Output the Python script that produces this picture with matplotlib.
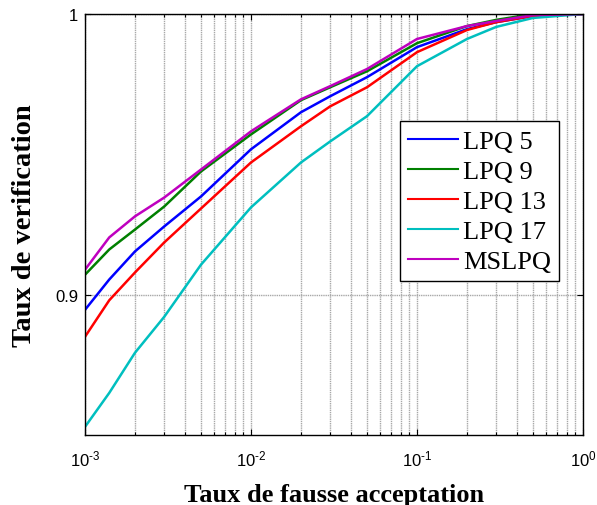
import matplotlib
matplotlib.use("Agg")
import matplotlib.pyplot as plt
import numpy as np
from matplotlib.ticker import LogLocator, NullFormatter, FixedLocator, FuncFormatter

plt.rcParams["axes.unicode_minus"] = False
plt.rcParams["mathtext.fontset"] = "custom"
plt.rcParams["mathtext.rm"] = "Liberation Sans"
plt.rcParams["mathtext.it"] = "Liberation Sans:italic"
plt.rcParams["mathtext.bf"] = "Liberation Sans:bold"
plt.rcParams["mathtext.default"] = "regular"

far = [1e-3, 1.4e-3, 2e-3, 3e-3, 5e-3, 1e-2, 2e-2, 3e-2, 5e-2, 0.1, 0.2, 0.3, 0.5, 1.0]

lpq5 = [0.8946, 0.9054, 0.9154, 0.9243, 0.9350, 0.9518, 0.9650, 0.9707, 0.9775, 0.9882, 0.9946, 0.9971, 0.9993, 1.0]
lpq9 = [0.9071, 0.9161, 0.9232, 0.9314, 0.9439, 0.9571, 0.9693, 0.9739, 0.9796, 0.9896, 0.9957, 0.9979, 1.0, 1.0]
lpq13 = [0.8850, 0.8980, 0.9079, 0.9186, 0.9307, 0.9471, 0.9600, 0.9671, 0.9739, 0.9864, 0.9943, 0.9971, 0.9993, 1.0]
lpq17 = [0.8529, 0.8650, 0.8793, 0.8921, 0.9107, 0.9311, 0.9471, 0.9546, 0.9636, 0.9814, 0.9911, 0.9954, 0.9986, 1.0]
mslpq = [0.9089, 0.9204, 0.9279, 0.9346, 0.9446, 0.9582, 0.9696, 0.9743, 0.9804, 0.9911, 0.9957, 0.9975, 0.9996, 1.0]

labels = ["LPQ 5", "LPQ 9", "LPQ 13", "LPQ 17", "MSLPQ"]
colors = ["#0000ff", "#008000", "#ff0000", "#00bfbf", "#bf00bf"]
series = [lpq5, lpq9, lpq13, lpq17, mslpq]

xlabel = "Taux de fausse acceptation"
ylabel = "Taux de verification"
yticks = [0.9, 1.0]
yticklabels = ["0.9", "1"]

fig = plt.figure(figsize=(5.97, 5.06), dpi=100)
ax = fig.add_axes([85/597, 1-436/506, 498/597, 421/506])

lines = []
for y, c, lab in zip(series, colors, labels):
    l, = ax.plot(far, y, color=c, lw=1.8, label=lab)
    lines.append(l)

ax.set_xscale("log")
ax.set_xlim(1e-3, 1.0)
ax.set_ylim(0.85, 1.0)


def fmt(v, pos):
    e = int(round(np.log10(v)))
    if e < 0:
        return r"$10^{\text{-}%d}$" % (-e)
    return r"$10^{%d}$" % e


ax.xaxis.set_major_locator(LogLocator(base=10, numticks=10))
ax.xaxis.set_major_formatter(FuncFormatter(fmt))
ax.xaxis.set_minor_locator(LogLocator(base=10, subs=range(2, 10), numticks=20))
ax.xaxis.set_minor_formatter(NullFormatter())
ax.yaxis.set_major_locator(FixedLocator(yticks))
ax.set_yticklabels(yticklabels)

ax.grid(True, which="both", axis="x", color="#a8a8a8", linestyle=(0, (1, 0.6)), linewidth=1.0)
ax.grid(True, which="major", axis="y", color="#a8a8a8", linestyle=(0, (1, 0.6)), linewidth=1.0)

ax.tick_params(which="both", direction="in", top=True, right=True, labelsize=12, width=0.8)
ax.tick_params(axis="x", which="major", pad=10)
ax.tick_params(axis="y", which="major", pad=5)
ax.tick_params(which="major", length=4)
ax.tick_params(which="minor", length=2)
for lab in ax.get_xticklabels() + ax.get_yticklabels():
    lab.set_fontfamily("Liberation Sans")
for s in ax.spines.values():
    s.set_linewidth(1.0)

ax.set_xlabel(xlabel, fontsize=19, fontweight="bold", fontfamily="Liberation Serif", labelpad=10)
ax.set_ylabel(ylabel, fontsize=20.5, fontweight="bold", fontfamily="Liberation Serif", labelpad=13)

leg = ax.legend(handles=lines, loc="lower left", bbox_to_anchor=(315/498, 154/421),
                borderaxespad=0, prop={"family": "Liberation Serif", "size": 19},
                fancybox=False, framealpha=1, edgecolor="black",
                handlelength=1.9, handletextpad=0.2, labelspacing=0.25, borderpad=0.3)
leg.get_frame().set_linewidth(1.0)
for h in leg.get_lines():
    h.set_linewidth(1.5)

fig.savefig("out.png", dpi=100)
